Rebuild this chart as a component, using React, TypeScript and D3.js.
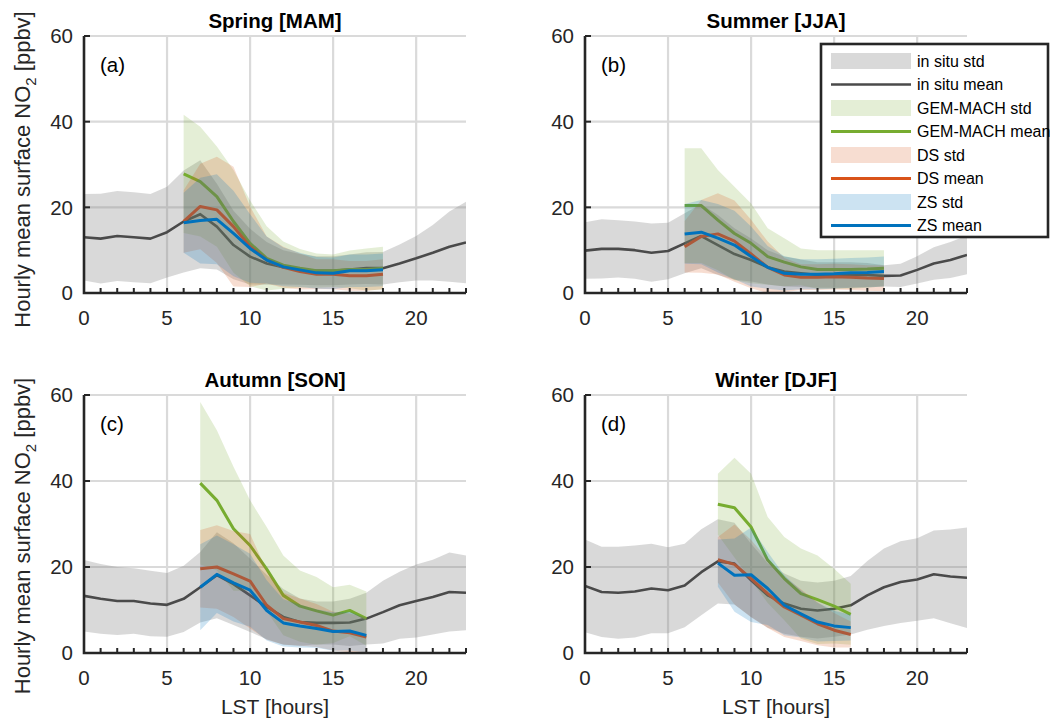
import React from "react";
import * as d3 from "d3";

// ---------- DATA ----------
const hours = [0, 1, 2, 3, 4, 5, 6, 7, 8, 9, 10, 11, 12, 13, 14, 15, 16, 17, 18, 19, 20, 21, 22, 23];
const xTickLabels = [0, 5, 10, 15, 20];
const yTickLabels = [0, 20, 40, 60];
const seriesNames = ["in situ std", "in situ mean", "GEM-MACH std", "GEM-MACH mean", "DS std", "DS mean", "ZS std", "ZS mean"];
const panelTitles = ["Spring [MAM]", "Summer [JJA]", "Autumn [SON]", "Winter [DJF]"];
const panelLetters = ["(a)", "(b)", "(c)", "(d)"];

// Spring (MAM)
const springInsituMean = [13.0, 12.7, 13.3, 13.0, 12.7, 14.2, 16.7, 18.4, 15.5, 11.2, 8.5, 6.9, 6.0, 5.5, 5.2, 5.2, 5.5, 5.8, 5.8, 6.9, 8.1, 9.4, 10.8, 11.8];
const springInsituStd = [10.1, 10.5, 10.5, 10.5, 10.4, 10.6, 11.9, 12.6, 10.0, 8.0, 6.5, 5.0, 4.0, 3.6, 3.4, 3.4, 3.5, 3.7, 3.8, 4.4, 5.2, 6.5, 8.2, 9.5];
const springModelHours = [6, 7, 8, 9, 10, 11, 12, 13, 14, 15, 16, 17, 18];
const springGemMean = [27.8, 26.0, 22.5, 16.7, 11.6, 8.1, 6.5, 5.8, 5.2, 5.2, 5.5, 5.5, 5.8];
const springGemStd = [13.8, 12.8, 11.7, 12.0, 10.0, 7.5, 5.5, 4.5, 4.0, 3.8, 4.4, 4.9, 5.0];
const springDsMean = [16.7, 20.2, 19.4, 15.5, 10.8, 7.7, 6.0, 5.0, 4.4, 4.4, 4.0, 4.0, 4.4];
const springDsStd = [7.3, 10.0, 12.4, 14.0, 9.4, 5.5, 4.8, 4.2, 3.5, 3.5, 3.5, 3.5, 3.5];
const springZsMean = [16.4, 16.9, 17.2, 13.9, 10.4, 7.7, 6.1, 5.4, 4.7, 4.6, 5.2, 5.2, 5.4];
const springZsStd = [7.0, 10.0, 10.5, 10.0, 8.0, 5.5, 4.5, 4.0, 3.7, 3.7, 3.8, 3.8, 3.8];

// Summer (JJA)
const summerInsituMean = [9.9, 10.3, 10.3, 10.0, 9.4, 9.8, 11.6, 13.3, 11.2, 9.1, 7.7, 6.0, 5.0, 4.6, 4.2, 4.2, 4.2, 4.2, 4.0, 4.1, 5.4, 6.9, 7.7, 8.9];
const summerInsituStd = [6.6, 6.9, 6.7, 6.7, 6.8, 6.6, 7.0, 7.5, 7.0, 6.0, 5.0, 4.0, 3.5, 3.2, 3.0, 3.0, 3.0, 2.8, 2.5, 2.7, 3.2, 3.8, 4.2, 4.5];
const summerModelHours = [6, 7, 8, 9, 10, 11, 12, 13, 14, 15, 16, 17, 18];
const summerGemMean = [20.4, 20.4, 17.0, 13.9, 11.6, 8.5, 7.2, 6.1, 5.5, 5.5, 5.5, 5.6, 5.8];
const summerGemStd = [13.4, 13.4, 11.7, 10.9, 9.3, 6.6, 5.6, 4.3, 4.5, 4.5, 4.5, 4.4, 4.2];
const summerDsMean = [10.8, 13.2, 13.8, 12.1, 9.1, 6.0, 4.2, 3.7, 3.7, 3.8, 3.7, 3.5, 3.4];
const summerDsStd = [6.0, 8.5, 9.5, 9.5, 8.0, 6.0, 4.0, 3.0, 3.0, 3.0, 3.0, 3.0, 3.0];
const summerZsMean = [13.8, 14.2, 12.8, 11.2, 8.5, 6.0, 4.6, 4.4, 4.4, 4.5, 4.7, 4.8, 5.0];
const summerZsStd = [7.0, 7.5, 8.0, 8.0, 7.0, 5.0, 4.0, 3.5, 3.5, 3.5, 3.5, 3.5, 3.5];

// Autumn (SON)
const autumnInsituMean = [13.3, 12.6, 12.1, 12.1, 11.5, 11.2, 12.6, 15.3, 18.1, 16.0, 13.4, 10.7, 8.4, 7.2, 7.0, 7.0, 7.1, 8.0, 9.5, 11.1, 12.1, 13.0, 14.2, 14.0];
const autumnInsituStd = [8.3, 8.1, 7.9, 7.6, 7.6, 7.4, 7.7, 8.2, 10.0, 9.5, 8.5, 7.5, 6.5, 5.5, 5.0, 5.0, 5.5, 6.0, 7.3, 7.8, 8.5, 8.7, 9.2, 8.7];
const autumnModelHours = [7, 8, 9, 10, 11, 12, 13, 14, 15, 16, 17];
const autumnGemMean = [39.5, 35.5, 28.9, 25.0, 19.5, 13.4, 10.9, 9.8, 8.8, 9.9, 8.0];
const autumnGemStd = [18.9, 16.3, 14.4, 10.5, 9.8, 9.3, 8.3, 7.9, 6.5, 6.0, 6.3];
const autumnDsMean = [19.6, 20.0, 18.4, 16.7, 11.1, 8.0, 7.2, 6.4, 5.1, 4.7, 3.7];
const autumnDsStd = [9.0, 9.7, 10.0, 11.0, 8.0, 6.0, 5.5, 5.0, 4.5, 4.5, 4.5];
const autumnZsMean = [15.3, 18.3, 16.3, 14.6, 9.9, 7.0, 6.3, 5.7, 5.0, 5.1, 4.1];
const autumnZsStd = [10.0, 9.0, 9.0, 8.5, 7.0, 5.5, 5.0, 4.5, 4.5, 4.5, 4.0];

// Winter (DJF)
const winterInsituMean = [15.6, 14.2, 14.0, 14.3, 15.0, 14.6, 15.7, 18.8, 21.3, 20.8, 16.9, 13.4, 11.5, 10.3, 9.9, 10.3, 11.1, 13.4, 15.3, 16.5, 17.1, 18.3, 17.8, 17.5];
const winterInsituStd = [10.8, 10.5, 10.7, 10.7, 10.4, 10.0, 9.7, 10.0, 9.8, 9.5, 8.5, 7.5, 7.0, 6.5, 6.5, 6.5, 6.8, 8.0, 9.0, 9.5, 9.6, 10.2, 10.9, 11.7];
const winterModelHours = [8, 9, 10, 11, 12, 13, 14, 15, 16];
const winterGemMean = [34.6, 33.8, 29.3, 21.6, 17.3, 13.8, 12.4, 10.9, 9.0];
const winterGemStd = [7.1, 11.6, 12.4, 10.0, 9.7, 10.5, 10.3, 8.7, 7.1];
const winterDsMean = [21.7, 20.6, 17.3, 13.8, 10.7, 8.8, 6.8, 5.3, 4.3];
const winterDsStd = [5.3, 9.3, 9.0, 8.0, 7.0, 6.0, 5.0, 4.0, 3.0];
const winterZsMean = [20.9, 18.1, 18.2, 15.0, 11.1, 9.1, 7.2, 6.3, 5.9];
const winterZsStd = [5.5, 8.5, 11.0, 8.5, 7.0, 5.5, 4.5, 3.5, 3.0];

// ---------- STYLE ----------
const FONT = "'Liberation Sans', Arial, Helvetica, sans-serif";
const AXIS = "#262626";
const GRID = "#dadada";
const colors = {
  insitu: { fill: "#808080", fillOpacity: 0.3, line: "#4a4a4a", width: 2.6 },
  gem: { fill: "#77AC30", fillOpacity: 0.2, line: "#77AC30", width: 3 },
  ds: { fill: "#D95319", fillOpacity: 0.2, line: "#D95319", width: 3 },
  zs: { fill: "#0072BD", fillOpacity: 0.2, line: "#0072BD", width: 3 },
};

type Series = { hrs: number[]; mean: number[]; std: number[]; key: keyof typeof colors };

const panels = [
  {
    title: panelTitles[0], letter: panelLetters[0], left: 84, top: 36, bottom: 293, ylabelShift: 5,
    series: [
      { hrs: hours, mean: springInsituMean, std: springInsituStd, key: "insitu" },
      { hrs: springModelHours, mean: springGemMean, std: springGemStd, key: "gem" },
      { hrs: springModelHours, mean: springDsMean, std: springDsStd, key: "ds" },
      { hrs: springModelHours, mean: springZsMean, std: springZsStd, key: "zs" },
    ] as Series[],
    ylabel: true, xlabel: false,
  },
  {
    title: panelTitles[1], letter: panelLetters[1], left: 585, top: 36, bottom: 293, ylabelShift: 0,
    series: [
      { hrs: hours, mean: summerInsituMean, std: summerInsituStd, key: "insitu" },
      { hrs: summerModelHours, mean: summerGemMean, std: summerGemStd, key: "gem" },
      { hrs: summerModelHours, mean: summerDsMean, std: summerDsStd, key: "ds" },
      { hrs: summerModelHours, mean: summerZsMean, std: summerZsStd, key: "zs" },
    ] as Series[],
    ylabel: false, xlabel: false,
  },
  {
    title: panelTitles[2], letter: panelLetters[2], left: 84, top: 395, bottom: 653, ylabelShift: 12,
    series: [
      { hrs: hours, mean: autumnInsituMean, std: autumnInsituStd, key: "insitu" },
      { hrs: autumnModelHours, mean: autumnGemMean, std: autumnGemStd, key: "gem" },
      { hrs: autumnModelHours, mean: autumnDsMean, std: autumnDsStd, key: "ds" },
      { hrs: autumnModelHours, mean: autumnZsMean, std: autumnZsStd, key: "zs" },
    ] as Series[],
    ylabel: true, xlabel: true,
  },
  {
    title: panelTitles[3], letter: panelLetters[3], left: 585, top: 395, bottom: 653, ylabelShift: 0,
    series: [
      { hrs: hours, mean: winterInsituMean, std: winterInsituStd, key: "insitu" },
      { hrs: winterModelHours, mean: winterGemMean, std: winterGemStd, key: "gem" },
      { hrs: winterModelHours, mean: winterDsMean, std: winterDsStd, key: "ds" },
      { hrs: winterModelHours, mean: winterZsMean, std: winterZsStd, key: "zs" },
    ] as Series[],
    ylabel: false, xlabel: true,
  },
];

const PLOT_W = 382;

function Panel({ p, idx }: { p: (typeof panels)[number]; idx: number }) {
  const x = d3.scaleLinear().domain([0, 23]).range([p.left, p.left + PLOT_W]);
  const y = d3.scaleLinear().domain([0, 60]).range([p.bottom, p.top]);
  const clipId = `clip-${idx}`;
  const area = (s: Series) =>
    d3
      .area<number>()
      .x((_, i) => x(s.hrs[i]))
      .y0((_, i) => y(s.mean[i] - s.std[i]))
      .y1((_, i) => y(s.mean[i] + s.std[i]))(s.mean) || "";
  const line = (s: Series) =>
    d3
      .line<number>()
      .x((_, i) => x(s.hrs[i]))
      .y((d) => y(d))(s.mean) || "";
  const cx = p.left + PLOT_W / 2;
  return (
    <g>
      <defs>
        <clipPath id={clipId}>
          <rect x={x(0)} y={y(60)} width={x(23) - x(0)} height={y(0) - y(60)} />
        </clipPath>
      </defs>
      {/* grid */}
      {[5, 10, 15, 20].map((v) => (
        <line key={"gx" + v} x1={x(v)} x2={x(v)} y1={y(0)} y2={y(60)} stroke={GRID} strokeWidth={2.2} />
      ))}
      {[20, 40, 60].map((v) => (
        <line key={"gy" + v} x1={x(0)} x2={x(23)} y1={y(v)} y2={y(v)} stroke={GRID} strokeWidth={2.2} />
      ))}
      <g clipPath={`url(#${clipId})`}>
        {p.series.map((s) => (
          <g key={s.key}>
            <path d={area(s)} fill={colors[s.key].fill} fillOpacity={colors[s.key].fillOpacity} stroke="none" />
            <path d={line(s)} fill="none" stroke={colors[s.key].line} strokeWidth={colors[s.key].width} strokeLinejoin="round" />
          </g>
        ))}
      </g>
      {/* axes */}
      {hours.filter((h) => h > 0).map((h) => (
        <line key={"tx" + h} x1={x(h)} x2={x(h)} y1={y(0)} y2={y(0) - 5} stroke={AXIS} strokeWidth={2} />
      ))}
      {yTickLabels.filter((v) => v > 0).map((v) => (
        <line key={"ty" + v} x1={x(0)} x2={x(0) + 6} y1={y(v)} y2={y(v)} stroke={AXIS} strokeWidth={2} />
      ))}
      <path d={`M${x(0)},${y(60)}V${y(0)}H${x(23)}`} fill="none" stroke={AXIS} strokeWidth={2.6} />
      {/* tick labels */}
      {yTickLabels.map((v) => (
        <text key={"yl" + v} x={x(0) - 11} y={y(v)} dy="0.36em" textAnchor="end" fontSize={20.5} fill={AXIS} fontFamily={FONT}>
          {v}
        </text>
      ))}
      {xTickLabels.map((v) => (
        <text key={"xl" + v} x={x(v)} y={y(0) + 32} textAnchor="middle" fontSize={20.5} fill={AXIS} fontFamily={FONT}>
          {v}
        </text>
      ))}
      {/* title */}
      <text x={cx} y={p.top - 8} textAnchor="middle" fontSize={20.5} fontWeight="bold" fill="#000" fontFamily={FONT}>
        {p.title}
      </text>
      <text x={x(0) + 16} y={y(60) + 36} fontSize={20.5} fill="#000" fontFamily={FONT}>
        {p.letter}
      </text>
      {p.ylabel && (
        <text
          transform={`translate(30,${(p.top + p.bottom) / 2 + p.ylabelShift}) rotate(-90)`}
          textAnchor="middle"
          fontSize={22}
          fill={AXIS}
          fontFamily={FONT}
        >
          Hourly mean surface NO<tspan fontSize={15} dy={6}>2</tspan>
          <tspan dy={-6}> [ppbv]</tspan>
        </text>
      )}
      {p.xlabel && (
        <text x={cx} y={y(0) + 61} textAnchor="middle" fontSize={21} fill={AXIS} fontFamily={FONT}>
          LST [hours]
        </text>
      )}
    </g>
  );
}

function Legend() {
  const lx = 821;
  const ly = 44;
  const keys: (keyof typeof colors)[] = ["insitu", "insitu", "gem", "gem", "ds", "ds", "zs", "zs"];
  return (
    <g>
      <rect x={lx} y={ly} width={227} height={193} fill="#fff" stroke={AXIS} strokeWidth={2.6} />
      {seriesNames.map((name, i) => {
        const cy = ly + 17 + i * 23.5;
        const k = keys[i];
        const isStd = i % 2 === 0;
        return (
          <g key={name}>
            {isStd ? (
              <rect x={lx + 10} y={cy - 8} width={80} height={16} fill={colors[k].fill} fillOpacity={colors[k].fillOpacity} />
            ) : (
              <line x1={lx + 10} x2={lx + 90} y1={cy} y2={cy} stroke={colors[k].line} strokeWidth={colors[k].width} />
            )}
            <text x={lx + 96} y={cy} dy="0.36em" fontSize={16} fill="#000" fontFamily={FONT}>
              {name}
            </text>
          </g>
        );
      })}
    </g>
  );
}

export default function App() {
  return (
    <svg
      width={1051}
      height={720}
      viewBox="0 0 1051 720"
      style={{ position: "absolute", left: 0, top: 0, background: "#fff", display: "block" }}
    >
      <rect x={0} y={0} width={1051} height={720} fill="#fff" />
      {panels.map((p, i) => (
        <Panel key={i} p={p} idx={i} />
      ))}
      <Legend />
    </svg>
  );
}
